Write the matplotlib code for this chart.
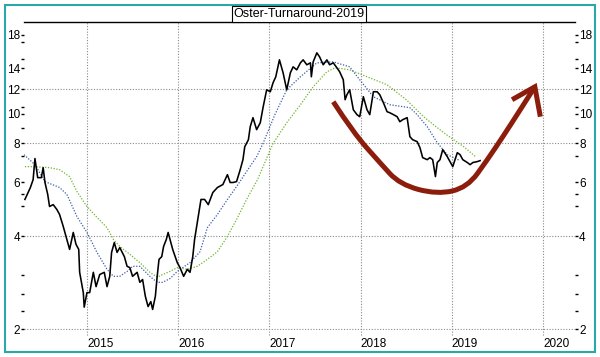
import numpy as np
import matplotlib
matplotlib.use("Agg")
import matplotlib.pyplot as plt
from matplotlib.path import Path
from matplotlib.patches import PathPatch, Rectangle
from matplotlib.ticker import FixedLocator, NullFormatter, FixedFormatter

plt.rcParams['font.family'] = ['Liberation Sans', 'DejaVu Sans']

title = "Oster-Turnaround-2019"

# price series (decimal year, price)
price_t = [2014.32, 2014.38, 2014.41, 2014.43, 2014.46, 2014.50, 2014.52, 2014.54, 2014.57, 2014.59,
           2014.63, 2014.67, 2014.70, 2014.74, 2014.78, 2014.81, 2014.85, 2014.88, 2014.91, 2014.92,
           2014.96, 2014.97, 2015.00, 2015.03, 2015.07, 2015.10, 2015.14, 2015.19, 2015.22, 2015.25,
           2015.27, 2015.30, 2015.33, 2015.36, 2015.41, 2015.44, 2015.47, 2015.50, 2015.55, 2015.58,
           2015.61, 2015.64, 2015.67, 2015.70, 2015.72, 2015.75, 2015.77, 2015.79, 2015.82, 2015.84,
           2015.87, 2015.89, 2015.92, 2015.94, 2015.99, 2016.02, 2016.06, 2016.10, 2016.13, 2016.16,
           2016.18, 2016.22, 2016.25, 2016.29, 2016.33, 2016.38, 2016.43, 2016.49, 2016.54, 2016.57,
           2016.60, 2016.64, 2016.68, 2016.71, 2016.73, 2016.77, 2016.79, 2016.82, 2016.86, 2016.90,
           2016.93, 2016.97, 2017.01, 2017.04, 2017.07, 2017.11, 2017.15, 2017.19, 2017.23, 2017.26,
           2017.30, 2017.34, 2017.37, 2017.41, 2017.45, 2017.46, 2017.48, 2017.52, 2017.55, 2017.59,
           2017.63, 2017.66, 2017.70, 2017.74, 2017.77, 2017.81, 2017.83, 2017.85, 2017.88, 2017.92,
           2017.96, 2017.99, 2018.03, 2018.07, 2018.10, 2018.14, 2018.18, 2018.21, 2018.25, 2018.29,
           2018.32, 2018.36, 2018.40, 2018.43, 2018.46, 2018.51, 2018.54, 2018.57, 2018.62, 2018.65,
           2018.68, 2018.73, 2018.76, 2018.79, 2018.82, 2018.84, 2018.87, 2018.90, 2018.95, 2018.98,
           2019.01, 2019.06, 2019.09, 2019.12, 2019.17, 2019.20, 2019.23, 2019.28, 2019.31]
price_v = [5.27, 5.76, 6.11, 7.15, 6.20, 6.20, 6.68, 5.98, 5.47, 5.00,
           5.07, 4.89, 4.71, 4.31, 3.91, 3.63, 4.12, 3.77, 3.63, 3.06,
           2.63, 2.36, 2.63, 2.63, 3.06, 2.75, 3.01, 3.06, 2.75, 2.97,
           3.55, 3.82, 3.55, 3.68, 3.44, 3.20, 3.17, 2.97, 3.06, 2.84,
           2.90, 2.56, 2.37, 2.46, 2.32, 2.56, 2.97, 3.37, 3.44, 3.71,
           3.91, 4.12, 3.82, 3.63, 3.29, 3.17, 2.97, 3.13, 3.06, 3.44,
           3.91, 4.64, 5.27, 5.27, 5.07, 5.55, 5.76, 5.89, 6.34, 5.98,
           5.98, 6.02, 6.58, 7.09, 7.81, 8.23, 9.07, 9.70, 8.87, 9.34,
           10.45, 11.94, 11.77, 12.58, 13.16, 14.93, 13.56, 11.94, 13.56, 14.17,
           13.86, 14.60, 14.93, 14.39, 14.60, 13.16, 14.71, 15.73, 15.27, 14.39,
           14.93, 14.39, 14.60, 14.07, 13.66, 12.87, 11.09, 11.51, 11.94, 10.29,
           9.92, 9.77, 11.34, 10.29, 9.92, 11.77, 11.77, 11.51, 10.84, 10.14,
           10.06, 9.92, 9.77, 9.41, 9.55, 9.70, 8.42, 8.23, 8.11, 7.76,
           7.20, 7.09, 7.20, 7.09, 6.25, 6.94, 7.09, 7.64, 7.25, 6.99,
           6.73, 7.47, 7.36, 7.09, 6.94, 6.83, 6.94, 6.99, 7.04]

# fast moving average (blue)
ma_fast_t = [2014.31, 2014.43, 2014.54, 2014.70, 2014.78, 2014.89, 2015.00, 2015.11, 2015.22, 2015.29,
             2015.36, 2015.44, 2015.50, 2015.58, 2015.69, 2015.77, 2015.83, 2015.91, 2015.99, 2016.05,
             2016.13, 2016.24, 2016.32, 2016.43, 2016.54, 2016.64, 2016.75, 2016.86, 2016.93, 2017.06,
             2017.19, 2017.34, 2017.52, 2017.70, 2017.88, 2017.99, 2018.14, 2018.32, 2018.54, 2018.62,
             2018.73, 2018.84, 2018.95, 2019.09]
ma_fast_v = [7.36, 6.83, 6.02, 5.76, 5.47, 4.64, 4.12, 3.55, 3.13, 2.97,
             2.97, 3.08, 3.20, 3.20, 2.97, 2.84, 2.84, 2.92, 3.08, 3.17,
             3.29, 3.57, 4.27, 4.71, 5.27, 5.80, 6.49, 7.25, 8.00, 9.92,
             11.94, 13.16, 14.60, 14.71, 14.17, 12.87, 11.34, 10.68, 10.45, 9.92,
             9.07, 8.05, 7.36, 7.04]

# slow moving average (green)
ma_slow_t = [2014.32, 2014.43, 2014.59, 2014.70, 2014.81, 2014.89, 2015.00, 2015.11, 2015.22, 2015.29,
             2015.36, 2015.47, 2015.58, 2015.69, 2015.77, 2015.83, 2015.91, 2015.99, 2016.10, 2016.21,
             2016.32, 2016.43, 2016.54, 2016.64, 2016.75, 2016.87, 2017.04, 2017.19, 2017.34, 2017.48,
             2017.63, 2017.72, 2017.88, 2018.07, 2018.29, 2018.50, 2018.69, 2018.91, 2019.13, 2019.26]
ma_slow_v = [6.73, 6.73, 6.68, 6.58, 6.25, 5.59, 5.00, 4.61, 4.27, 3.91,
             3.71, 3.50, 3.29, 3.06, 2.95, 3.01, 3.08, 3.17, 3.13, 3.20,
             3.37, 3.57, 4.00, 4.54, 5.27, 6.11, 8.00, 9.34, 10.68, 12.21,
             13.66, 14.07, 13.86, 13.16, 12.40, 11.09, 9.77, 8.67, 7.81, 7.25]

year_ticks = [2015, 2016, 2017, 2018, 2019, 2020]
y_major = [2, 4, 6, 8, 10, 12, 14, 18]
y_minor = [2.3, 2.6, 3, 5, 5.5, 7.3, 9, 10.5, 15, 17]
grid_levels = [2, 4, 8, 12]

# hand-drawn turnaround arrow (decoration, data coords)
arrow_t = [2017.70, 2017.92, 2018.21, 2018.43, 2018.84, 2019.17, 2019.39, 2019.56, 2019.75, 2019.91]
arrow_v = [10.92, 8.67, 6.94, 5.89, 5.47, 5.76, 7.09, 8.42, 10.29, 12.21]
head_t = [2019.66, 2019.91, 2019.97]
head_v = [11.09, 12.21, 9.77]

arrow_color = '#8c1d0c'
grid_color = '#8a8a8a'

fig = plt.figure(figsize=(6, 3.57), dpi=100)
ax = fig.add_axes([24/600, 27/357, 551/600, 308/357])
ax.set_yscale('log')
ax.set_xlim(2014.31, 2020.35)
ax.set_ylim(1.99, 19.8)

for g in grid_levels:
    ax.axhline(g, color=grid_color, ls=(0, (1, 1.5)), lw=0.8, zorder=0)
for yr in year_ticks:
    ax.axvline(yr, ymin=-0.015, ymax=1, color=grid_color, ls=(0, (1, 1.5)), lw=0.8,
               zorder=0, clip_on=False)

ax.plot(ma_slow_t, ma_slow_v, color='#6fb52c', lw=0.9, ls=(0, (1, 1.3)), zorder=2)
ax.plot(ma_fast_t, ma_fast_v, color='#3b5cab', lw=0.9, ls=(0, (1, 1.3)), zorder=2)
ax.plot(price_t, price_v, color='black', lw=1.15, zorder=3)

# smooth arrow curve through control points
pts = list(zip(arrow_t, arrow_v))
verts = [pts[0]]
codes = [Path.MOVETO]
for i in range(1, len(pts) - 1):
    mid = ((pts[i][0] + pts[i + 1][0]) / 2, np.sqrt(pts[i][1] * pts[i + 1][1]))
    verts += [pts[i], mid]
    codes += [Path.CURVE3, Path.CURVE3]
verts.append(pts[-1])
codes.append(Path.LINETO)
ax.add_patch(PathPatch(Path(verts, codes), facecolor='none', edgecolor=arrow_color,
                       lw=3.6, capstyle='butt', clip_on=False, zorder=5))
ax.plot(head_t, head_v, color=arrow_color, lw=3.6, solid_joinstyle='miter',
        solid_capstyle='butt', clip_on=False, zorder=5)

for s in ['left', 'right', 'bottom']:
    ax.spines[s].set_visible(False)
ax.spines['top'].set_linewidth(1.0)
ax.spines['top'].set_color('black')

ax.yaxis.set_major_locator(FixedLocator(y_major))
ax.yaxis.set_major_formatter(FixedFormatter([str(v) for v in y_major]))
ax.yaxis.set_minor_locator(FixedLocator(y_minor))
ax.yaxis.set_minor_formatter(NullFormatter())
ax.tick_params(axis='y', which='both', left=True, right=True, labelleft=True, labelright=True,
               length=2, width=1, pad=1, labelsize=8.5, direction='out', colors='black')

ax.set_xticks(year_ticks)
ax.set_xticklabels([str(y) for y in year_ticks], ha='left')
ax.tick_params(axis='x', length=0, pad=6, labelsize=8.5)
ax.xaxis.set_minor_locator(FixedLocator([]))

fig.text(299/600, 1 - 14/357, title, ha='center', va='center', fontsize=9,
         bbox=dict(boxstyle='square,pad=0.15', fc='white', ec='black', lw=0.8))

fig.add_artist(Rectangle((5/600, 5/357), 590/600, 347/357, transform=fig.transFigure,
                         fill=False, edgecolor='#2aa7a7', lw=1.5))

fig.savefig('out.png', dpi=100)
